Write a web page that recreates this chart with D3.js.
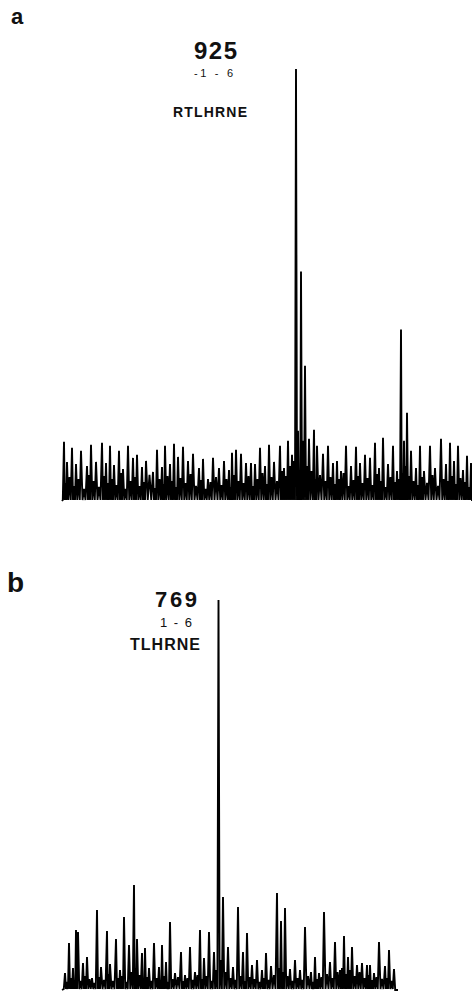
<!DOCTYPE html>
<html>
<head>
<meta charset="utf-8">
<script src="https://cdn.jsdelivr.net/npm/d3@7"></script>
<style>
  body { margin: 0; background: #fff; }
  svg { display: block; }
  text { font-family: "Liberation Sans", Arial, Helvetica, sans-serif; fill: #111; }
</style>
</head>
<body>
<script>
// spectrum a: [channel, intensity] of the resolved peaks
var peaksA = [
  [64,59],[67,39],[72,53],[76,37],[81,50],[87,35],[91,56],[96,39],[102,58],[106,38],
  [110,55],[114,36],[119,50],[123,32],[128,55],[133,43],[137,46],[142,34],[146,40],[153,29],
  [157,51],[162,34],[165,55],[170,37],[174,57],[178,44],[183,54],[188,40],[193,47],[199,33],
  [203,42],[208,22],[213,43],[219,33],[224,40],[229,31],[232,48],[236,51],[241,47],[246,38],
  [251,38],[255,37],[260,53],[265,35],[269,56],[274,39],[280,55],[284,33],[288,60],[292,46],
  [296,431],[298,70],[301,229],[303,60],[305,135],[309,62],[314,71],[317,55],[323,47],[328,55],
  [333,38],[337,40],[341,30],[346,55],[351,35],[356,54],[360,38],[365,46],[370,43],[375,58],
  [379,33],[383,63],[388,37],[393,55],[397,30],[401,171],[404,60],[407,88],[411,50],[416,33],
  [420,55],[424,30],[430,55],[435,33],[441,62],[446,37],[450,58],[454,40],[458,55],[463,31],
  [467,45],[471,38]
];
// small noise bumps between the peaks of a
var minorA = [18,24,15,22,12,26,20,14,25,18, 22,16,28,12,20,24,15,19,26,13,
  22,17,25,20,14,23,18,27,15,21, 12,19,24,16,22,14,26,20,18,25,
  15,22,28,17,24,20,30,25,35,40, 30,28,32,45,35,30,22,26,20,24,
  17,22,28,15,21,25,18,23,16,27, 20,14,24,19,22,28,35,25,20,16,
  24,18,26,15,22,20,25,17,23,19, 14];

// spectrum b
var peaksB = [
  [65,17],[69,47],[73,22],[76,60],[78,58],[83,27],[87,33],[92,12],[97,80],[101,23],
  [107,59],[110,26],[116,51],[120,20],[124,73],[129,45],[134,105],[137,51],[142,37],[145,42],
  [149,22],[154,47],[159,23],[162,45],[166,28],[170,68],[175,17],[181,38],[185,15],[190,43],
  [195,18],[200,60],[204,32],[209,58],[214,38],[218.5,390],[223,93],[228,43],[233,23],[238,83],
  [243,38],[247,57],[252,25],[257,30],[262,20],[266,37],[271,24],[277,97],[281,69],[285,82],
  [290,21],[295,30],[300,20],[305,63],[311,18],[315,33],[319,17],[324,78],[330,28],[335,48],
  [340,20],[344,54],[348,33],[352,43],[357,25],[362,27],[367,25],[370,25],[374,17],[379,48],
  [385,24],[389,40],[394,21]
];
var minorB = [8,12,10,15,9,14,11,7,13,10, 16,9,12,14,8,18,22,15,11,13,
  9,12,10,14,8,11,13,9,12,10, 15,11,14,9,20,30,18,12,10,14,
  9,13,11,8,12,10,15,22,18,14, 9,12,10,14,8,11,13,16,12,18,
  22,16,20,14,18,12,15,10,13,11, 12,9];

var rangeA = [62, 472];
var rangeB = [62, 398];

var width = 472, height = 995;
var svg = d3.select("body").append("svg")
  .attr("width", width)
  .attr("height", height);

// build the trace: valley, peak, valley, bump, valley, peak ...
function traceOf(peaks, minors, xr) {
  var pts = [[xr[0], 0]];
  for (var i = 0; i < peaks.length; i++) {
    var p = peaks[i];
    if (i > 0) {
      var prev = peaks[i - 1][0];
      var gap = p[0] - prev;
      if (gap >= 3 && i - 1 < minors.length) {
        pts.push([prev + gap * 0.25, 1]);
        pts.push([prev + gap * 0.5, minors[i - 1]]);
        pts.push([prev + gap * 0.75, 1]);
      } else {
        pts.push([prev + gap * 0.5, 1]);
      }
    } else {
      pts.push([p[0] - 1.2, 1]);
    }
    pts.push(p);
  }
  pts.push([Math.min(peaks[peaks.length - 1][0] + 1.2, xr[1]), 0]);
  if (pts[pts.length - 1][0] < xr[1]) pts.push([xr[1], 0]);
  return pts;
}

function drawSpectrum(peaks, minors, xr, yMax, baseY, topY) {
  var x = d3.scaleLinear().domain(xr).range(xr);
  var y = d3.scaleLinear().domain([0, yMax]).range([baseY, topY]);
  var line = d3.line()
    .x(function(d) { return x(d[0]); })
    .y(function(d) { return y(d[1]); });
  svg.append("path")
    .datum(traceOf(peaks, minors, xr))
    .attr("d", line)
    .attr("fill", "none")
    .attr("stroke", "#000")
    .attr("stroke-width", 1.9)
    .attr("stroke-linejoin", "miter")
    .attr("stroke-miterlimit", 2);
}

drawSpectrum(peaksA, minorA, rangeA, 431, 501, 69);
drawSpectrum(peaksB, minorB, rangeB, 390, 990, 600);

// labels
function label(txt, x, y, size, weight, len) {
  var t = svg.append("text")
    .attr("x", x).attr("y", y)
    .attr("font-size", size)
    .attr("font-weight", weight)
    .text(txt);
  if (len) t.attr("textLength", len).attr("lengthAdjust", "spacing");
  return t;
}

label("a", 11, 24, 22, "bold");
label("925", 194, 59, 24, "bold", 43);
label("-1 - 6", 194, 77, 11, "normal", 39);
label("RTLHRNE", 173, 117, 14, "bold", 74);

label("b", 7, 592, 28, "bold");
label("769", 155, 607, 22, "bold", 42);
label("1 - 6", 160, 627, 13, "normal", 32);
label("TLHRNE", 130, 650, 16, "bold", 70);
</script>
</body>
</html>
